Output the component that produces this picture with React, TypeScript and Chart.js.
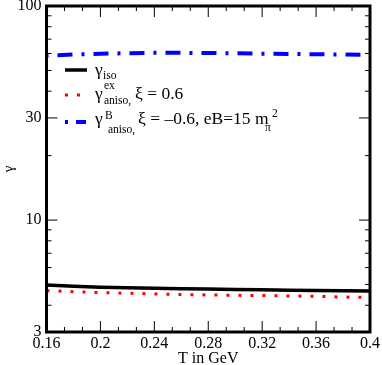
import React, { useEffect, useRef } from "react";
import { Chart, registerables } from "chart.js";

Chart.register(...registerables);

const temperatures = [0.16, 0.18, 0.2, 0.22, 0.24, 0.26, 0.28, 0.3, 0.32, 0.34, 0.36, 0.38, 0.4];
const gammaIso = [4.97, 4.91, 4.86, 4.83, 4.8, 4.78, 4.76, 4.74, 4.72, 4.7, 4.69, 4.675, 4.66];
const gammaAnisoEx = [4.68, 4.63, 4.58, 4.55, 4.52, 4.49, 4.47, 4.45, 4.44, 4.42, 4.4, 4.37, 4.35];
const gammaAnisoB = [58.6, 59.3, 59.8, 60.2, 60.4, 60.4, 60.3, 60.1, 59.9, 59.7, 59.5, 59.3, 59.1];

const xTicks = [0.16, 0.2, 0.24, 0.28, 0.32, 0.36, 0.4];
const yTicks = [3, 10, 30, 100];
const yMinorTicks = [4, 5, 6, 7, 8, 9, 20, 40, 50, 60, 70, 80, 90];

const FONT = "'Liberation Serif', 'Times New Roman', serif";

const framePlugin = {
  id: "framePlugin",
  afterDraw(chart: any) {
    const { ctx, chartArea: a, scales } = chart;
    const xs = scales.x;
    const ys = scales.y;
    ctx.save();
    ctx.strokeStyle = "#000";
    ctx.lineWidth = 1;
    const vTick = (px: number, len: number) => {
      ctx.beginPath();
      ctx.moveTo(px, a.bottom);
      ctx.lineTo(px, a.bottom - len);
      ctx.moveTo(px, a.top);
      ctx.lineTo(px, a.top + len);
      ctx.stroke();
    };
    const hTick = (py: number, len: number) => {
      ctx.beginPath();
      ctx.moveTo(a.left, py);
      ctx.lineTo(a.left + len, py);
      ctx.moveTo(a.right, py);
      ctx.lineTo(a.right - len, py);
      ctx.stroke();
    };
    xTicks.forEach((v, i) => {
      vTick(xs.getPixelForValue(v), 11);
      if (i < xTicks.length - 1) {
        const step = (xTicks[i + 1] - v) / 3;
        vTick(xs.getPixelForValue(v + step), 5);
        vTick(xs.getPixelForValue(v + 2 * step), 5);
      }
    });
    yTicks.forEach((v) => hTick(ys.getPixelForValue(v), 11));
    yMinorTicks.forEach((v) => hTick(ys.getPixelForValue(v), 5));

    ctx.lineWidth = 3;
    ctx.strokeRect(a.left, a.top, a.right - a.left, a.bottom - a.top);

    // legend
    const txt = (s: string, x: number, y: number, size: number) => {
      ctx.font = `${size}px ${FONT}`;
      ctx.fillStyle = "#000";
      ctx.textAlign = "left";
      ctx.textBaseline = "alphabetic";
      ctx.fillText(s, x, y);
    };
    const big = 17.5;
    const small = 11.5;
    // row 1
    ctx.setLineDash([]);
    ctx.lineWidth = 3.5;
    ctx.strokeStyle = "#000";
    ctx.beginPath();
    ctx.moveTo(65, 70);
    ctx.lineTo(87, 70);
    ctx.stroke();
    txt("γ", 95, 75, big);
    txt("iso", 103, 79, small);
    // row 2
    ctx.lineWidth = 3;
    ctx.strokeStyle = "#ff0000";
    ctx.setLineDash([3, 9]);
    ctx.beginPath();
    ctx.moveTo(65, 95);
    ctx.lineTo(80, 95);
    ctx.stroke();
    txt("γ", 95, 99, big);
    txt("ex", 104, 89, small);
    txt("aniso,", 104, 104, small);
    txt("ξ = 0.6", 135, 99, big);
    // row 3
    ctx.lineWidth = 4;
    ctx.strokeStyle = "#0000ff";
    ctx.setLineDash([3, 8, 10, 8]);
    ctx.beginPath();
    ctx.moveTo(65, 122);
    ctx.lineTo(87, 122);
    ctx.stroke();
    ctx.setLineDash([]);
    txt("γ", 95, 124, big);
    txt("B", 105, 119, small);
    txt("aniso,", 108, 133, small);
    txt("ξ = –0.6, eB=15 m", 138, 124, big);
    txt("π", 265, 131, small);
    txt("2", 272, 117, small);
    ctx.restore();
  },
};

export default function App() {
  const ref = useRef<HTMLCanvasElement | null>(null);
  useEffect(() => {
    if (!ref.current) return;
    const tickFont = { family: FONT, size: 16 };
    const chart = new Chart(ref.current, {
      type: "line",
      data: {
        labels: temperatures,
        datasets: [
          {
            data: temperatures.map((t, i) => ({ x: t, y: gammaIso[i] })),
            borderColor: "#000000",
            borderWidth: 3.5,
            pointRadius: 0,
            tension: 0,
          },
          {
            data: temperatures.map((t, i) => ({ x: t, y: gammaAnisoEx[i] })),
            borderColor: "#ff0000",
            borderWidth: 3,
            borderDash: [3, 9],
            borderCapStyle: "butt",
            pointRadius: 0,
            tension: 0,
          },
          {
            data: temperatures.map((t, i) => ({ x: t, y: gammaAnisoB[i] })),
            borderColor: "#0000ff",
            borderWidth: 4,
            borderDash: [15, 9, 3, 9],
            borderDashOffset: 25,
            pointRadius: 0,
            tension: 0,
          },
        ],
      },
      options: {
        responsive: false,
        animation: false,
        layout: { padding: { top: 6, right: 12, left: 0, bottom: 0 } },
        plugins: { legend: { display: false }, tooltip: { enabled: false } },
        scales: {
          x: {
            type: "linear",
            min: 0.16,
            max: 0.4,
            grid: { display: false, drawTicks: false },
            border: { display: false },
            afterBuildTicks: (s: any) => {
              s.ticks = xTicks.map((v) => ({ value: v }));
            },
            afterFit: (s: any) => {
              s.height = 33;
              s.paddingLeft = 0;
              s.paddingRight = 0;
            },
            ticks: {
              autoSkip: false,
              maxRotation: 0,
              minRotation: 0,
              padding: 2,
              color: "#000",
              font: tickFont,
              callback: (v: any) => String(+Number(v).toFixed(2)),
            },
            title: {
              display: true,
              text: "T in GeV",
              color: "#000",
              font: tickFont,
              padding: { top: 0, bottom: -3 },
            },
          },
          y: {
            type: "logarithmic",
            min: 3,
            max: 100,
            grid: { display: false, drawTicks: false },
            border: { display: false },
            afterBuildTicks: (s: any) => {
              s.ticks = yTicks.map((v) => ({ value: v }));
            },
            afterFit: (s: any) => {
              s.width = 46.5;
              s.paddingTop = 0;
              s.paddingBottom = 0;
            },
            ticks: {
              autoSkip: false,
              padding: 5,
              color: "#000",
              font: tickFont,
              callback: (v: any) => String(v),
            },
            title: {
              display: true,
              text: "γ",
              color: "#000",
              font: { family: FONT, size: 15 },
              padding: { top: 0, bottom: 0 },
            },
          },
        },
      },
      plugins: [framePlugin],
    } as any);
    return () => chart.destroy();
  }, []);
  return (
    <div style={{ position: "fixed", left: 0, top: 0, width: 382, height: 365, background: "#fff" }}>
      <canvas ref={ref} width={382} height={365} style={{ display: "block" }} />
    </div>
  );
}
